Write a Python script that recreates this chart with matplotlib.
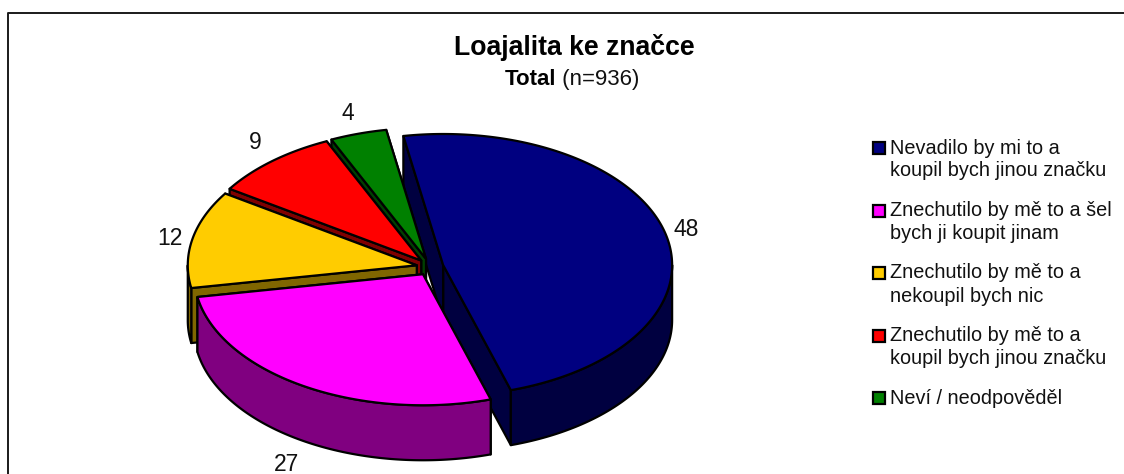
import numpy as np
import matplotlib
matplotlib.use('Agg')
import matplotlib.pyplot as plt
from matplotlib.patches import Polygon, Rectangle

title = 'Loajalita ke značce'
subtitle_bold = 'Total'
subtitle_rest = ' (n=936)'
categories = ['Nevadilo by mi to a\nkoupil bych jinou značku',
              'Znechutilo by mě to a šel\nbych ji koupit jinam',
              'Znechutilo by mě to a\nnekoupil bych nic',
              'Znechutilo by mě to a\nkoupil bych jinou značku',
              'Neví / neodpověděl']
values = [48, 27, 12, 9, 4]

top_colors = ['#000080', '#FF00FF', '#FFCC00', '#FF0000', '#008000']
side_colors = ['#000040', '#800080', '#806600', '#800000', '#004000']

plt.rcParams['font.family'] = ['Liberation Sans', 'DejaVu Sans']

# pie geometry, in figure pixels
CX, CY = 430, 267
RX, RY = 229, 131
DEPTH = 55
EXPLODE_X, EXPLODE_Y = 13.5, 8.5
START = -10
LABEL_K = [1.15, 1.20, 1.16, 1.17, 1.22]
LABEL_DY = [-2, 8, 2, -8, -1]
LW = 1.6

def point(ox, oy, angle, k=1.0):
    # angle in degrees, clockwise from the top of the ellipse
    t = np.radians(angle)
    return ox + k*RX*np.sin(t), oy - k*RY*np.cos(t)

def arc(ox, oy, a, b):
    ts = np.linspace(a, b, max(int(abs(b-a))*2, 2))
    return [point(ox, oy, t) for t in ts]

def down(pts):
    return [(x, y+DEPTH) for x, y in pts]

def side(ax, pts, color):
    ax.add_patch(Polygon(pts + down(pts)[::-1], closed=True, facecolor=color,
                         edgecolor='black', linewidth=LW, joinstyle='round'))

fig = plt.figure(figsize=(11.24, 4.74), dpi=100)
ax = fig.add_axes([0, 0, 1, 1])
ax.set_xlim(0, 1124)
ax.set_ylim(474, 0)
ax.axis('off')

# only the top and left of the frame are inside the picture
ax.plot([8, 8, 1124], [474, 13, 13], color='#1a1a1a', linewidth=1.4)

ends = START + np.cumsum(values)*3.6
starts = ends - np.array(values)*3.6

def draw_sides(i):
    mid = (starts[i]+ends[i])/2
    ox = CX + EXPLODE_X*np.sin(np.radians(mid))
    oy = CY - EXPLODE_Y*np.cos(np.radians(mid))
    apex = (ox, oy)
    side(ax, [apex, point(ox, oy, ends[i])], side_colors[i])
    side(ax, [apex, point(ox, oy, starts[i])], side_colors[i])
    a, b = max(starts[i], 90), min(ends[i], 270)
    if a < b:
        side(ax, arc(ox, oy, a, b), side_colors[i])
    return ox, oy

def draw_top(i, ox, oy):
    pts = [(ox, oy)] + arc(ox, oy, starts[i], ends[i])
    ax.add_patch(Polygon(pts, closed=True, facecolor=top_colors[i], edgecolor='black',
                         linewidth=LW, joinstyle='round'))

# back to front, the navy slice walls go behind everything else
origin = draw_sides(0)
for i in [4, 3, 2, 1]:
    o = draw_sides(i)
    draw_top(i, *o)
draw_top(0, *origin)

for i, v in enumerate(values):
    mid = (starts[i]+ends[i])/2
    x, y = point(CX, CY, mid, LABEL_K[i])
    if 90 < mid < 270:
        y += DEPTH
    ax.text(x, y+LABEL_DY[i], str(v), ha='center', va='center', fontsize=16.5, color='#111111')

ax.text(574, 47, title, ha='center', va='center', fontsize=19.2, fontweight='bold')
t1 = ax.text(505, 79, subtitle_bold, ha='left', va='center', fontsize=16, fontweight='bold')
ax.annotate(subtitle_rest, xy=(1, 0), xycoords=t1, va='bottom', ha='left', fontsize=16, color='#111111')

# legend
y = 148
for i, cat in enumerate(categories):
    ax.add_patch(Rectangle((873, y-6), 12, 12, facecolor=top_colors[i], edgecolor='black', linewidth=LW))
    lines = cat.split('\n')
    for j, line in enumerate(lines):
        ax.text(890, y+j*23, line, ha='left', va='center', fontsize=14.3, color='#111111')
    y += 62.5

fig.savefig('out.png', dpi=100)
plt.close(fig)
